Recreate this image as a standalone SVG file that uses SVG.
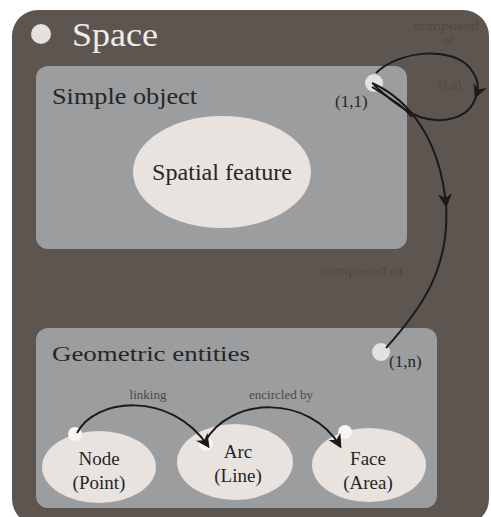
<svg xmlns="http://www.w3.org/2000/svg" width="491" height="517" viewBox="0 0 491 517">
<defs>
<style>
.serif{font-family:"Liberation Serif","DejaVu Serif",serif;}
.box{fill:#9b9d9e;}
.ell{fill:#e8e3df;}
.dot{fill:#e6e1de;}
.dark{fill:#262626;}
.faint{fill:#4f4844;font-size:12px;}
.lbl{fill:#4a4a4a;font-size:13px;}
.con{fill:none;stroke:#1a1a1a;stroke-width:2;}
</style>
<marker id="ahb" viewBox="0 0 10 10" refX="8" refY="5" markerWidth="14" markerHeight="14" orient="auto" markerUnits="userSpaceOnUse">
<path d="M0,0 L10,5 L0,10 L3,5 z" fill="#1a1a1a"/>
</marker>
</defs>
<rect width="491" height="517" fill="#ffffff"/>
<g id="space">
<rect x="12" y="10" width="477" height="515" rx="26" fill="#5c5550"/>
<circle class="dot" cx="41" cy="34" r="10"/>
<text class="serif" x="72" y="46" font-size="33" fill="#efeceb" textLength="86" lengthAdjust="spacingAndGlyphs">Space</text>
</g>
<g id="simple-object">
<rect class="box" x="36" y="66" width="371" height="183" rx="12"/>
<text class="serif dark" x="52" y="104" font-size="23" textLength="145" lengthAdjust="spacingAndGlyphs">Simple object</text>
<circle class="dot" cx="374" cy="83" r="9"/>
<text class="serif dark" x="335" y="107" font-size="17">(1,1)</text>
</g>
<g id="spatial-feature">
<ellipse class="ell" cx="222" cy="172" rx="89" ry="56"/>
<text class="serif dark" x="222" y="180" font-size="23" text-anchor="middle" textLength="140" lengthAdjust="spacingAndGlyphs">Spatial feature</text>
</g>
<g id="geometric-entities">
<rect class="box" x="36" y="328" width="401" height="180" rx="12"/>
<text class="serif dark" x="52" y="361" font-size="21" textLength="198" lengthAdjust="spacingAndGlyphs">Geometric entities</text>
<circle class="dot" cx="381" cy="352" r="9"/>
<text class="serif dark" x="389" y="367" font-size="17">(1,n)</text>
</g>
<g id="node">
<ellipse class="ell" cx="99" cy="467" rx="57" ry="36"/>
<circle cx="75" cy="434" r="7" fill="#f8f6f4"/>
<text class="serif dark" x="99" y="465" font-size="19" text-anchor="middle">Node</text>
<text class="serif dark" x="99" y="489" font-size="19" text-anchor="middle">(Point)</text>
</g>
<g id="arc">
<ellipse class="ell" cx="235" cy="462" rx="58" ry="38"/>
<circle cx="206" cy="444" r="7" fill="#f8f6f4"/>
<text class="serif dark" x="238" y="458" font-size="19" text-anchor="middle">Arc</text>
<text class="serif dark" x="238" y="482" font-size="19" text-anchor="middle">(Line)</text>
</g>
<g id="face">
<ellipse class="ell" cx="369" cy="465" rx="57" ry="37"/>
<circle cx="345" cy="432" r="7" fill="#f8f6f4"/>
<text class="serif dark" x="368" y="465" font-size="19" text-anchor="middle">Face</text>
<text class="serif dark" x="368" y="489" font-size="19" text-anchor="middle">(Area)</text>
</g>
<g id="connectors">
<path class="con" d="M376,73 C400,50 452,46 470,68 C479,80 479,88 476,96" marker-end="url(#ahb)"/>
<path class="con" d="M476,96 C470,120 440,124 420,117 C400,109 385,95 374,85"/>
<path class="con" d="M372,87 C395,101 405,108 412,117" stroke-width="1.5"/>
<path class="con" d="M372,83 C410,100 440,140 446,205" marker-end="url(#ahb)"/>
<path class="con" d="M446,205 C450,270 420,310 386,348"/>
<path class="con" d="M77,433 C95,398 170,390 208,446" marker-end="url(#ahb)"/>
<path class="con" d="M204,443 C230,395 310,395 340,446" marker-end="url(#ahb)"/>
<text class="serif faint" x="446" y="30" text-anchor="middle" textLength="66" lengthAdjust="spacingAndGlyphs">composed</text>
<text class="serif faint" x="448" y="44" text-anchor="middle">of</text>
<text class="serif faint" x="450" y="89" text-anchor="middle">(1,n)</text>
<text class="serif faint" x="362" y="275" text-anchor="middle" textLength="84" lengthAdjust="spacingAndGlyphs">composed of</text>
<text class="serif lbl" x="148" y="399" text-anchor="middle">linking</text>
<text class="serif lbl" x="281" y="399" text-anchor="middle">encircled by</text>
</g>
</svg>
